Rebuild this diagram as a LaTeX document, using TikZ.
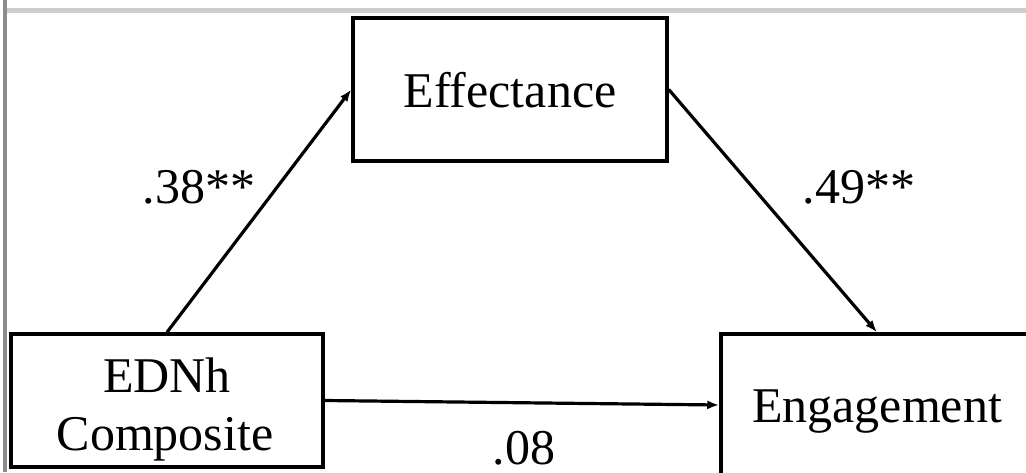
\documentclass[tikz,border=0pt]{standalone}
\usepackage{fontspec}
\setmainfont{Liberation Serif}
\usetikzlibrary{arrows.meta}
\definecolor{frameL}{RGB}{140,140,140}
\definecolor{frameT}{RGB}{205,205,205}
\tikzset{
  box/.style={draw=black, line width=3.5pt, rectangle, inner sep=0pt},
  txt/.style={font=\fontsize{50}{58}\selectfont, inner sep=0pt, anchor=base},
  lbl/.style={font=\fontsize{50}{58}\selectfont, inner sep=0pt, anchor=base},
  conn/.style={line width=3.2pt, -{Latex[length=12pt,width=9pt]}, shorten >=0pt}
}
\begin{document}
\begin{tikzpicture}[x=1pt,y=-1pt]
\useasboundingbox (0,0) rectangle (1026,472);
\clip (0,0) rectangle (1026,472);
\fill[white] (0,0) rectangle (1026,472);
% frame lines
\fill[frameL] (3,0) rectangle (7,472);
\fill[frameT] (7,8) rectangle (1026,13);
% boxes
\node[box, minimum width=314pt, minimum height=143pt] (eff) at (510,89.5) {};
\node[box, minimum width=312pt, minimum height=133pt] (ed) at (167,400.5) {};
\node[box, minimum width=312pt, minimum height=142pt] (eng) at (877,405) {};
% texts
\node[txt] (efft) at (510,107) {Effectance};
\node[txt] (edt1) at (167,392) {EDNh};
\node[txt] (edt2) at (165,450) {Composite};
\node[txt] (engt) at (877,422) {Engagement};
% connectors
\draw[conn] (ed.north) -- (eff.west);
\draw[conn] (eff.east) -- (eng.north);
\draw[conn] (ed.east) -- (eng.west);
% labels
\node[lbl] (la) at (199,203) {.38**};
\node[lbl] (lb) at (859,203) {.49**};
\node[lbl] (lc) at (524,464) {.08};
\end{tikzpicture}
\end{document}
